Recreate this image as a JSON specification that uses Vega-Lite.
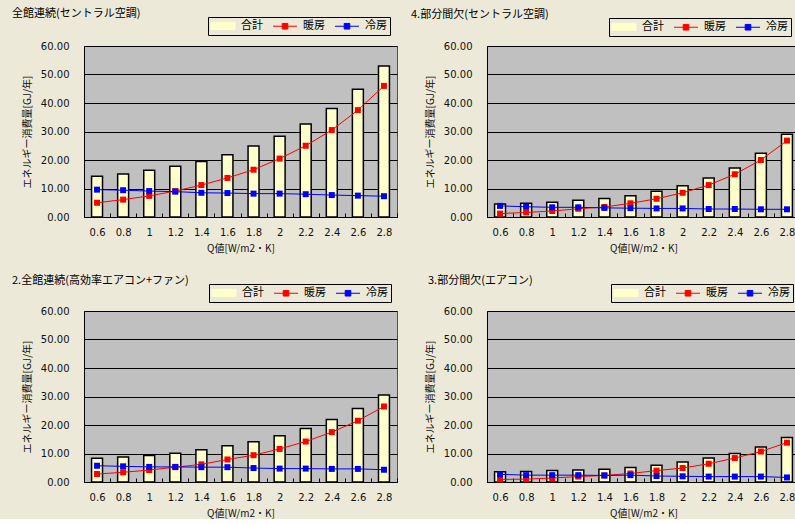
{
  "$schema": "https://vega.github.io/schema/vega-lite/v6.json",
  "background": "#ECE9D8",
  "padding": {"left": 11, "top": 7, "right": 0, "bottom": 0},
  "data": {
    "values": [
      {"p": 1, "q": "0.6", "s": "合計", "v": 14.3}, {"p": 1, "q": "0.8", "s": "合計", "v": 15.1}, {"p": 1, "q": "1", "s": "合計", "v": 16.4}, {"p": 1, "q": "1.2", "s": "合計", "v": 17.8}, {"p": 1, "q": "1.4", "s": "合計", "v": 19.5}, {"p": 1, "q": "1.6", "s": "合計", "v": 21.8}, {"p": 1, "q": "1.8", "s": "合計", "v": 24.9}, {"p": 1, "q": "2", "s": "合計", "v": 28.3}, {"p": 1, "q": "2.2", "s": "合計", "v": 32.6}, {"p": 1, "q": "2.4", "s": "合計", "v": 38.1}, {"p": 1, "q": "2.6", "s": "合計", "v": 44.8}, {"p": 1, "q": "2.8", "s": "合計", "v": 53.0},
      {"p": 1, "q": "0.6", "s": "暖房", "v": 5.0}, {"p": 1, "q": "0.8", "s": "暖房", "v": 6.1}, {"p": 1, "q": "1", "s": "暖房", "v": 7.4}, {"p": 1, "q": "1.2", "s": "暖房", "v": 9.1}, {"p": 1, "q": "1.4", "s": "暖房", "v": 11.2}, {"p": 1, "q": "1.6", "s": "暖房", "v": 13.7}, {"p": 1, "q": "1.8", "s": "暖房", "v": 16.6}, {"p": 1, "q": "2", "s": "暖房", "v": 20.5}, {"p": 1, "q": "2.2", "s": "暖房", "v": 25.0}, {"p": 1, "q": "2.4", "s": "暖房", "v": 30.5}, {"p": 1, "q": "2.6", "s": "暖房", "v": 37.5}, {"p": 1, "q": "2.8", "s": "暖房", "v": 46.0},
      {"p": 1, "q": "0.6", "s": "冷房", "v": 9.6}, {"p": 1, "q": "0.8", "s": "冷房", "v": 9.4}, {"p": 1, "q": "1", "s": "冷房", "v": 9.1}, {"p": 1, "q": "1.2", "s": "冷房", "v": 8.9}, {"p": 1, "q": "1.4", "s": "冷房", "v": 8.5}, {"p": 1, "q": "1.6", "s": "冷房", "v": 8.4}, {"p": 1, "q": "1.8", "s": "冷房", "v": 8.2}, {"p": 1, "q": "2", "s": "冷房", "v": 8.2}, {"p": 1, "q": "2.2", "s": "冷房", "v": 8.0}, {"p": 1, "q": "2.4", "s": "冷房", "v": 7.7}, {"p": 1, "q": "2.6", "s": "冷房", "v": 7.5}, {"p": 1, "q": "2.8", "s": "冷房", "v": 7.3},

      {"p": 4, "q": "0.6", "s": "合計", "v": 4.6}, {"p": 4, "q": "0.8", "s": "合計", "v": 4.8}, {"p": 4, "q": "1", "s": "合計", "v": 5.2}, {"p": 4, "q": "1.2", "s": "合計", "v": 5.9}, {"p": 4, "q": "1.4", "s": "合計", "v": 6.5}, {"p": 4, "q": "1.6", "s": "合計", "v": 7.5}, {"p": 4, "q": "1.8", "s": "合計", "v": 9.0}, {"p": 4, "q": "2", "s": "合計", "v": 11.0}, {"p": 4, "q": "2.2", "s": "合計", "v": 13.7}, {"p": 4, "q": "2.4", "s": "合計", "v": 17.2}, {"p": 4, "q": "2.6", "s": "合計", "v": 22.4}, {"p": 4, "q": "2.8", "s": "合計", "v": 29.0},
      {"p": 4, "q": "0.6", "s": "暖房", "v": 1.2}, {"p": 4, "q": "0.8", "s": "暖房", "v": 1.6}, {"p": 4, "q": "1", "s": "暖房", "v": 2.1}, {"p": 4, "q": "1.2", "s": "暖房", "v": 2.9}, {"p": 4, "q": "1.4", "s": "暖房", "v": 3.5}, {"p": 4, "q": "1.6", "s": "暖房", "v": 4.8}, {"p": 4, "q": "1.8", "s": "暖房", "v": 6.4}, {"p": 4, "q": "2", "s": "暖房", "v": 8.5}, {"p": 4, "q": "2.2", "s": "暖房", "v": 11.2}, {"p": 4, "q": "2.4", "s": "暖房", "v": 15.0}, {"p": 4, "q": "2.6", "s": "暖房", "v": 20.0}, {"p": 4, "q": "2.8", "s": "暖房", "v": 26.8},
      {"p": 4, "q": "0.6", "s": "冷房", "v": 3.9}, {"p": 4, "q": "0.8", "s": "冷房", "v": 3.6}, {"p": 4, "q": "1", "s": "冷房", "v": 3.4}, {"p": 4, "q": "1.2", "s": "冷房", "v": 3.4}, {"p": 4, "q": "1.4", "s": "冷房", "v": 3.2}, {"p": 4, "q": "1.6", "s": "冷房", "v": 3.1}, {"p": 4, "q": "1.8", "s": "冷房", "v": 3.0}, {"p": 4, "q": "2", "s": "冷房", "v": 3.0}, {"p": 4, "q": "2.2", "s": "冷房", "v": 2.8}, {"p": 4, "q": "2.4", "s": "冷房", "v": 2.8}, {"p": 4, "q": "2.6", "s": "冷房", "v": 2.7}, {"p": 4, "q": "2.8", "s": "冷房", "v": 2.7},

      {"p": 2, "q": "0.6", "s": "合計", "v": 8.3}, {"p": 2, "q": "0.8", "s": "合計", "v": 8.8}, {"p": 2, "q": "1", "s": "合計", "v": 9.3}, {"p": 2, "q": "1.2", "s": "合計", "v": 10.1}, {"p": 2, "q": "1.4", "s": "合計", "v": 11.3}, {"p": 2, "q": "1.6", "s": "合計", "v": 12.7}, {"p": 2, "q": "1.8", "s": "合計", "v": 14.1}, {"p": 2, "q": "2", "s": "合計", "v": 16.2}, {"p": 2, "q": "2.2", "s": "合計", "v": 18.8}, {"p": 2, "q": "2.4", "s": "合計", "v": 21.9}, {"p": 2, "q": "2.6", "s": "合計", "v": 25.8}, {"p": 2, "q": "2.8", "s": "合計", "v": 30.5},
      {"p": 2, "q": "0.6", "s": "暖房", "v": 2.8}, {"p": 2, "q": "0.8", "s": "暖房", "v": 3.4}, {"p": 2, "q": "1", "s": "暖房", "v": 4.2}, {"p": 2, "q": "1.2", "s": "暖房", "v": 5.2}, {"p": 2, "q": "1.4", "s": "暖房", "v": 6.2}, {"p": 2, "q": "1.6", "s": "暖房", "v": 7.9}, {"p": 2, "q": "1.8", "s": "暖房", "v": 9.4}, {"p": 2, "q": "2", "s": "暖房", "v": 11.6}, {"p": 2, "q": "2.2", "s": "暖房", "v": 14.2}, {"p": 2, "q": "2.4", "s": "暖房", "v": 17.5}, {"p": 2, "q": "2.6", "s": "暖房", "v": 21.5}, {"p": 2, "q": "2.8", "s": "暖房", "v": 26.5},
      {"p": 2, "q": "0.6", "s": "冷房", "v": 5.7}, {"p": 2, "q": "0.8", "s": "冷房", "v": 5.5}, {"p": 2, "q": "1", "s": "冷房", "v": 5.3}, {"p": 2, "q": "1.2", "s": "冷房", "v": 5.3}, {"p": 2, "q": "1.4", "s": "冷房", "v": 5.2}, {"p": 2, "q": "1.6", "s": "冷房", "v": 5.2}, {"p": 2, "q": "1.8", "s": "冷房", "v": 4.9}, {"p": 2, "q": "2", "s": "冷房", "v": 4.7}, {"p": 2, "q": "2.2", "s": "冷房", "v": 4.7}, {"p": 2, "q": "2.4", "s": "冷房", "v": 4.6}, {"p": 2, "q": "2.6", "s": "冷房", "v": 4.6}, {"p": 2, "q": "2.8", "s": "冷房", "v": 4.3},

      {"p": 3, "q": "0.6", "s": "合計", "v": 3.6}, {"p": 3, "q": "0.8", "s": "合計", "v": 3.7}, {"p": 3, "q": "1", "s": "合計", "v": 4.0}, {"p": 3, "q": "1.2", "s": "合計", "v": 4.2}, {"p": 3, "q": "1.4", "s": "合計", "v": 4.5}, {"p": 3, "q": "1.6", "s": "合計", "v": 5.1}, {"p": 3, "q": "1.8", "s": "合計", "v": 5.9}, {"p": 3, "q": "2", "s": "合計", "v": 7.0}, {"p": 3, "q": "2.2", "s": "合計", "v": 8.4}, {"p": 3, "q": "2.4", "s": "合計", "v": 10.0}, {"p": 3, "q": "2.6", "s": "合計", "v": 12.3}, {"p": 3, "q": "2.8", "s": "合計", "v": 15.6},
      {"p": 3, "q": "0.6", "s": "暖房", "v": 0.9}, {"p": 3, "q": "0.8", "s": "暖房", "v": 1.0}, {"p": 3, "q": "1", "s": "暖房", "v": 1.4}, {"p": 3, "q": "1.2", "s": "暖房", "v": 1.9}, {"p": 3, "q": "1.4", "s": "暖房", "v": 2.3}, {"p": 3, "q": "1.6", "s": "暖房", "v": 3.0}, {"p": 3, "q": "1.8", "s": "暖房", "v": 4.0}, {"p": 3, "q": "2", "s": "暖房", "v": 4.9}, {"p": 3, "q": "2.2", "s": "暖房", "v": 6.4}, {"p": 3, "q": "2.4", "s": "暖房", "v": 8.4}, {"p": 3, "q": "2.6", "s": "暖房", "v": 10.7}, {"p": 3, "q": "2.8", "s": "暖房", "v": 13.8},
      {"p": 3, "q": "0.6", "s": "冷房", "v": 2.7}, {"p": 3, "q": "0.8", "s": "冷房", "v": 2.4}, {"p": 3, "q": "1", "s": "冷房", "v": 2.4}, {"p": 3, "q": "1.2", "s": "冷房", "v": 2.4}, {"p": 3, "q": "1.4", "s": "冷房", "v": 2.3}, {"p": 3, "q": "1.6", "s": "冷房", "v": 2.4}, {"p": 3, "q": "1.8", "s": "冷房", "v": 2.1}, {"p": 3, "q": "2", "s": "冷房", "v": 2.0}, {"p": 3, "q": "2.2", "s": "冷房", "v": 1.9}, {"p": 3, "q": "2.4", "s": "冷房", "v": 1.9}, {"p": 3, "q": "2.6", "s": "冷房", "v": 1.9}, {"p": 3, "q": "2.8", "s": "冷房", "v": 1.6}
    ]
  },
  "columns": 2,
  "spacing": {"row": 20, "column": 12},
  "resolve": {"scale": {"color": "independent"}, "legend": {"color": "independent"}},
  "concat": [
    {
      "width": 313, "height": 171,
      "title": {"text": "全館連続(セントラル空調)", "dx": -72},
      "transform": [{"filter": "datum.p == 1"}],
      "encoding": {
        "x": {"field": "q", "type": "ordinal", "title": "Q値[W/m2・K]",
              "scale": {"domain": ["0.6", "0.8", "1", "1.2", "1.4", "1.6", "1.8", "2", "2.2", "2.4", "2.6", "2.8"], "paddingInner": 0, "paddingOuter": 0}},
        "y": {"field": "v", "type": "quantitative", "stack": null, "title": "エネルギー消費量[GJ/年]",
              "scale": {"domain": [0, 60], "nice": false},
              "axis": {"values": [0, 10, 20, 30, 40, 50, 60], "format": ".2f", "labelPadding": 15, "titlePadding": 8}},
        "color": {"field": "s", "type": "nominal",
                  "scale": {"domain": ["合計", "暖房", "冷房"], "range": ["#FFFFCC", "#FF0000", "#0000FF"]},
                  "legend": {"legendX": 124, "legendY": -29,
                    "encode": {"symbols": {"update": {
                      "shape": {"signal": "datum.value === '合計' ? 'M-1.375,-0.9H4.625V0.9H-1.375Z' : 'M-1.375,0H4.625M0.925,-0.7H2.325V0.7H0.925Z'"},
                      "fill": {"signal": "datum.value === '合計' ? '#FFFFCC' : datum.value === '暖房' ? '#FF0000' : '#0000FF'"},
                      "stroke": {"signal": "datum.value === '合計' ? '#000000' : datum.value === '暖房' ? '#FF0000' : '#0000FF'"},
                      "strokeWidth": {"value": 1}, "opacity": {"value": 1}, "fillOpacity": {"value": 1}, "strokeOpacity": {"value": 1}}}}}}
      },
      "layer": [
        {"transform": [{"filter": "datum.s == '合計'"}], "mark": {"type": "bar", "stroke": "#000000", "strokeWidth": 1.5, "width": {"band": 0.42}, "opacity": 1}},
        {"transform": [{"filter": "datum.s != '合計'"}], "mark": {"type": "line", "strokeWidth": 1}},
        {"transform": [{"filter": "datum.s != '合計'"}], "mark": {"type": "square", "size": 36, "filled": true, "opacity": 1}}
      ]
    },
    {
      "width": 313, "height": 171,
      "title": {"text": "4.部分間欠(セントラル空調)", "dx": -76},
      "transform": [{"filter": "datum.p == 4"}],
      "encoding": {
        "x": {"field": "q", "type": "ordinal", "title": "Q値[W/m2・K]",
              "scale": {"domain": ["0.6", "0.8", "1", "1.2", "1.4", "1.6", "1.8", "2", "2.2", "2.4", "2.6", "2.8"], "paddingInner": 0, "paddingOuter": 0}},
        "y": {"field": "v", "type": "quantitative", "stack": null, "title": "エネルギー消費量[GJ/年]",
              "scale": {"domain": [0, 60], "nice": false},
              "axis": {"values": [0, 10, 20, 30, 40, 50, 60], "format": ".2f", "labelPadding": 15, "titlePadding": 8}},
        "color": {"field": "s", "type": "nominal",
                  "scale": {"domain": ["合計", "暖房", "冷房"], "range": ["#FFFFCC", "#FF0000", "#0000FF"]},
                  "legend": {"legendX": 122, "legendY": -28,
                    "encode": {"symbols": {"update": {
                      "shape": {"signal": "datum.value === '合計' ? 'M-1.375,-0.9H4.625V0.9H-1.375Z' : 'M-1.375,0H4.625M0.925,-0.7H2.325V0.7H0.925Z'"},
                      "fill": {"signal": "datum.value === '合計' ? '#FFFFCC' : datum.value === '暖房' ? '#FF0000' : '#0000FF'"},
                      "stroke": {"signal": "datum.value === '合計' ? '#000000' : datum.value === '暖房' ? '#FF0000' : '#0000FF'"},
                      "strokeWidth": {"value": 1}, "opacity": {"value": 1}, "fillOpacity": {"value": 1}, "strokeOpacity": {"value": 1}}}}}}
      },
      "layer": [
        {"transform": [{"filter": "datum.s == '合計'"}], "mark": {"type": "bar", "stroke": "#000000", "strokeWidth": 1.5, "width": {"band": 0.42}, "opacity": 1}},
        {"transform": [{"filter": "datum.s != '合計'"}], "mark": {"type": "line", "strokeWidth": 1}},
        {"transform": [{"filter": "datum.s != '合計'"}], "mark": {"type": "square", "size": 36, "filled": true, "opacity": 1}}
      ]
    },
    {
      "width": 313, "height": 171,
      "title": {"text": "2.全館連続(高効率エアコン+ファン)", "dx": -72},
      "transform": [{"filter": "datum.p == 2"}],
      "encoding": {
        "x": {"field": "q", "type": "ordinal", "title": "Q値[W/m2・K]",
              "scale": {"domain": ["0.6", "0.8", "1", "1.2", "1.4", "1.6", "1.8", "2", "2.2", "2.4", "2.6", "2.8"], "paddingInner": 0, "paddingOuter": 0}},
        "y": {"field": "v", "type": "quantitative", "stack": null, "title": "エネルギー消費量[GJ/年]",
              "scale": {"domain": [0, 60], "nice": false},
              "axis": {"values": [0, 10, 20, 30, 40, 50, 60], "format": ".2f", "labelPadding": 15, "titlePadding": 8}},
        "color": {"field": "s", "type": "nominal",
                  "scale": {"domain": ["合計", "暖房", "冷房"], "range": ["#FFFFCC", "#FF0000", "#0000FF"]},
                  "legend": {"legendX": 125, "legendY": -27,
                    "encode": {"symbols": {"update": {
                      "shape": {"signal": "datum.value === '合計' ? 'M-1.375,-0.9H4.625V0.9H-1.375Z' : 'M-1.375,0H4.625M0.925,-0.7H2.325V0.7H0.925Z'"},
                      "fill": {"signal": "datum.value === '合計' ? '#FFFFCC' : datum.value === '暖房' ? '#FF0000' : '#0000FF'"},
                      "stroke": {"signal": "datum.value === '合計' ? '#000000' : datum.value === '暖房' ? '#FF0000' : '#0000FF'"},
                      "strokeWidth": {"value": 1}, "opacity": {"value": 1}, "fillOpacity": {"value": 1}, "strokeOpacity": {"value": 1}}}}}}
      },
      "layer": [
        {"transform": [{"filter": "datum.s == '合計'"}], "mark": {"type": "bar", "stroke": "#000000", "strokeWidth": 1.5, "width": {"band": 0.42}, "opacity": 1}},
        {"transform": [{"filter": "datum.s != '合計'"}], "mark": {"type": "line", "strokeWidth": 1}},
        {"transform": [{"filter": "datum.s != '合計'"}], "mark": {"type": "square", "size": 36, "filled": true, "opacity": 1}}
      ]
    },
    {
      "width": 313, "height": 171,
      "title": {"text": "3.部分間欠(エアコン)", "dx": -59},
      "transform": [{"filter": "datum.p == 3"}],
      "encoding": {
        "x": {"field": "q", "type": "ordinal", "title": "Q値[W/m2・K]",
              "scale": {"domain": ["0.6", "0.8", "1", "1.2", "1.4", "1.6", "1.8", "2", "2.2", "2.4", "2.6", "2.8"], "paddingInner": 0, "paddingOuter": 0}},
        "y": {"field": "v", "type": "quantitative", "stack": null, "title": "エネルギー消費量[GJ/年]",
              "scale": {"domain": [0, 60], "nice": false},
              "axis": {"values": [0, 10, 20, 30, 40, 50, 60], "format": ".2f", "labelPadding": 15, "titlePadding": 8}},
        "color": {"field": "s", "type": "nominal",
                  "scale": {"domain": ["合計", "暖房", "冷房"], "range": ["#FFFFCC", "#FF0000", "#0000FF"]},
                  "legend": {"legendX": 124, "legendY": -27,
                    "encode": {"symbols": {"update": {
                      "shape": {"signal": "datum.value === '合計' ? 'M-1.375,-0.9H4.625V0.9H-1.375Z' : 'M-1.375,0H4.625M0.925,-0.7H2.325V0.7H0.925Z'"},
                      "fill": {"signal": "datum.value === '合計' ? '#FFFFCC' : datum.value === '暖房' ? '#FF0000' : '#0000FF'"},
                      "stroke": {"signal": "datum.value === '合計' ? '#000000' : datum.value === '暖房' ? '#FF0000' : '#0000FF'"},
                      "strokeWidth": {"value": 1}, "opacity": {"value": 1}, "fillOpacity": {"value": 1}, "strokeOpacity": {"value": 1}}}}}}
      },
      "layer": [
        {"transform": [{"filter": "datum.s == '合計'"}], "mark": {"type": "bar", "stroke": "#000000", "strokeWidth": 1.5, "width": {"band": 0.42}, "opacity": 1}},
        {"transform": [{"filter": "datum.s != '合計'"}], "mark": {"type": "line", "strokeWidth": 1}},
        {"transform": [{"filter": "datum.s != '合計'"}], "mark": {"type": "square", "size": 36, "filled": true, "opacity": 1}}
      ]
    }
  ],
  "config": {
    "view": {"fill": "#C0C0C0", "stroke": "#505050", "strokeWidth": 1},
    "title": {"anchor": "start", "frame": "group", "font": "Noto Sans CJK JP", "fontSize": 11, "fontWeight": "normal", "color": "#000000", "offset": -2},
    "axis": {
      "labelFont": "DejaVu Sans", "labelFontSize": 10, "labelColor": "#111111",
      "titleFont": "Noto Sans CJK JP", "titleFontSize": 10, "titleFontWeight": "normal", "titleColor": "#111111",
      "domainColor": "#000000", "tickColor": "#000000"
    },
    "axisY": {"grid": true, "gridColor": "#000000", "gridWidth": 1, "ticks": false},
    "axisX": {"grid": false, "labelAngle": 0, "tickBand": "extent", "tickSize": -4, "labelPadding": 14, "titlePadding": 6},
    "legend": {
      "orient": "none", "direction": "horizontal", "title": null,
      "symbolSize": 64, "symbolStrokeWidth": 1,
      "labelFont": "Noto Sans CJK JP", "labelFontSize": 11, "labelColor": "#000000",
      "labelOffset": 19, "columnPadding": 8, "padding": 3,
      "strokeColor": "#000000", "fillColor": "#ECE9D8", "cornerRadius": 0
    }
  }
}
